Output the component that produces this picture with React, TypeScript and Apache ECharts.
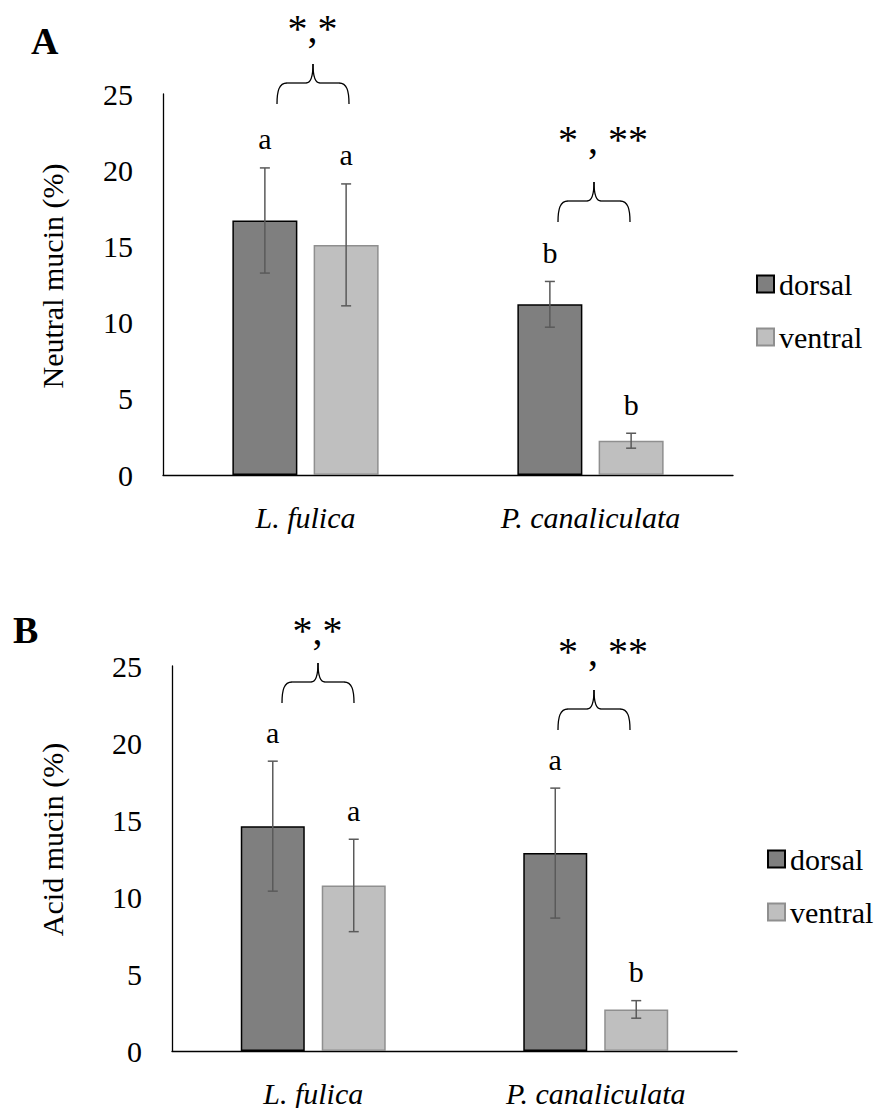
import React, { useEffect, useRef } from "react";
import * as echarts from "echarts";

const categories = ["L. fulica", "P. canaliculata"];
const seriesNames = ["dorsal", "ventral"];

// Panel A: Neutral mucin (%)
const neutralDorsal = [16.7, 11.2];
const neutralDorsalErr = [3.45, 1.5];
const neutralVentral = [15.1, 2.25];
const neutralVentralErr = [4.0, 0.49];
const neutralDorsalLetters = ["a", "b"];
const neutralVentralLetters = ["a", "b"];

// Panel B: Acid mucin (%)
const acidDorsal = [14.6, 12.85];
const acidDorsalErr = [4.22, 4.22];
const acidVentral = [10.75, 2.7];
const acidVentralErr = [3.0, 0.57];
const acidDorsalLetters = ["a", "a"];
const acidVentralLetters = ["a", "b"];

const yTicks = { min: 0, max: 25, interval: 5 };
const starsLeft = "*,*";
const starsRight = "* , **";

const FONT = "Liberation Serif";
const FS = 30;
const DORSAL_FILL = "#7f7f7f";
const VENTRAL_FILL = "#bfbfbf";
const ERR_COLOR = "#5a5a5a";

function errSeries(grid: number, means: number[], errs: number[], letters: string[], side: number, offset: number) {
  return {
    type: "custom",
    xAxisIndex: grid,
    yAxisIndex: grid,
    z: 5,
    silent: true,
    data: means.map((m, i) => [i, m, errs[i]]),
    encode: { x: 0, y: 1 },
    renderItem: (params: any, api: any) => {
      const i = api.value(0);
      const m = api.value(1);
      const e = api.value(2);
      const top = api.coord([i, m + e]);
      const bot = api.coord([i, m - e]);
      const x = top[0] + side * offset;
      const cap = 5;
      const ls = { stroke: ERR_COLOR, lineWidth: 1.5 };
      return {
        type: "group",
        children: [
          { type: "line", shape: { x1: x, y1: top[1], x2: x, y2: bot[1] }, style: ls },
          { type: "line", shape: { x1: x - cap, y1: top[1], x2: x + cap, y2: top[1] }, style: ls },
          { type: "line", shape: { x1: x - cap, y1: bot[1], x2: x + cap, y2: bot[1] }, style: ls },
          {
            type: "text",
            x,
            y: top[1] - 29,
            style: {
              text: letters[params.dataIndex],
              fontFamily: FONT,
              fontSize: FS,
              fill: "#000",
              align: "center",
              verticalAlign: "middle",
            },
          },
        ],
      };
    },
  };
}

function barSeries(grid: number, name: string, data: number[], barW: number, gap: string) {
  const dorsal = name === "dorsal";
  return {
    type: "bar",
    name,
    xAxisIndex: grid,
    yAxisIndex: grid,
    data,
    barWidth: barW,
    barGap: gap,
    itemStyle: {
      color: dorsal ? DORSAL_FILL : VENTRAL_FILL,
      borderColor: dorsal ? "#000" : "#8f8f8f",
      borderWidth: 1.5,
    },
  };
}

function yAxis(grid: number, name: string, gap: number, pad: number) {
  return {
    type: "value",
    gridIndex: grid,
    ...yTicks,
    name,
    nameLocation: "middle",
    nameRotate: 90,
    nameGap: gap,
    nameTextStyle: { fontFamily: FONT, fontSize: FS, color: "#000", padding: [0, 0, 0, pad] },
    axisLine: { show: true, lineStyle: { color: "#000", width: 1.3 } },
    axisTick: { show: false },
    splitLine: { show: false },
    axisLabel: { fontFamily: FONT, fontSize: FS, color: "#000", margin: 30 },
  };
}

function xAxis(grid: number) {
  return {
    type: "category",
    gridIndex: grid,
    data: categories,
    axisTick: { show: false },
    axisLine: { lineStyle: { color: "#000", width: 1.3 } },
    axisLabel: { fontFamily: FONT, fontSize: FS, fontStyle: "italic", color: "#000", margin: 27 },
  };
}

function legend(left: number, top: number) {
  return {
    data: seriesNames,
    orient: "vertical",
    left,
    top,
    icon: "rect",
    itemWidth: 17,
    itemHeight: 17,
    itemGap: 23,
    textStyle: { fontFamily: FONT, fontSize: FS, color: "#000" },
  };
}

function starText(x: number, y: number, text: string) {
  return {
    type: "text",
    x,
    y,
    style: { text, fontFamily: FONT, fontSize: 40, fill: "#000", align: "center", verticalAlign: "middle" },
  };
}

function brace(x: number, y: number) {
  const st = { stroke: "#000", fill: "none", lineWidth: 1.3 };
  return {
    type: "group",
    x,
    y,
    children: [
      { type: "bezierCurve", shape: { x1: 0, y1: 40, cpx1: 0, cpy1: 27, cpx2: 2, cpy2: 19, x2: 10, y2: 19 }, style: st },
      { type: "line", shape: { x1: 10, y1: 19, x2: 29, y2: 19 }, style: st },
      { type: "bezierCurve", shape: { x1: 29, y1: 19, cpx1: 33, cpy1: 19, cpx2: 36, cpy2: 14, x2: 36, y2: 0 }, style: st },
      { type: "bezierCurve", shape: { x1: 36, y1: 0, cpx1: 36, cpy1: 14, cpx2: 39, cpy2: 19, x2: 43, y2: 19 }, style: st },
      { type: "line", shape: { x1: 43, y1: 19, x2: 62, y2: 19 }, style: st },
      { type: "bezierCurve", shape: { x1: 62, y1: 19, cpx1: 70, cpy1: 19, cpx2: 72, cpy2: 27, x2: 72, y2: 40 }, style: st },
    ],
  };
}

function panelLabel(x: number, y: number, text: string) {
  return {
    type: "text",
    x,
    y,
    style: { text, fontFamily: FONT, fontSize: 38, fontWeight: "bold", fill: "#000", align: "left", verticalAlign: "middle" },
  };
}

export default function App() {
  const ref = useRef<HTMLDivElement>(null);
  useEffect(() => {
    if (!ref.current) return;
    const chart = echarts.init(ref.current, null, { renderer: "svg" });
    const offA = (65 * 1.25) / 2;
    const offB = (64 * 1.265) / 2;
    chart.setOption({
      animation: false,
      grid: [
        { left: 155, top: 86, width: 570, height: 381 },
        { left: 164, top: 658, width: 565, height: 391 },
      ],
      xAxis: [xAxis(0), xAxis(1)],
      yAxis: [yAxis(0, "Neutral mucin (%)", 96, 17), yAxis(1, "Acid mucin (%)", 105, 38)],
      legend: [legend(743, 256), legend(754, 831)],
      series: [
        barSeries(0, "dorsal", neutralDorsal, 65, "25%"),
        barSeries(0, "ventral", neutralVentral, 65, "25%"),
        barSeries(1, "dorsal", acidDorsal, 64, "26.5%"),
        barSeries(1, "ventral", acidVentral, 64, "26.5%"),
        errSeries(0, neutralDorsal, neutralDorsalErr, neutralDorsalLetters, -1, offA),
        errSeries(0, neutralVentral, neutralVentralErr, neutralVentralLetters, 1, offA),
        errSeries(1, acidDorsal, acidDorsalErr, acidDorsalLetters, -1, offB),
        errSeries(1, acidVentral, acidVentralErr, acidVentralLetters, 1, offB),
      ],
      graphic: [
        panelLabel(23, 32.5, "A"),
        panelLabel(5, 622, "B"),
        starText(304.5, 20, starsLeft),
        starText(595, 131, starsRight),
        starText(309.5, 622, starsLeft),
        starText(595, 643, starsRight),
        brace(269, 56),
        brace(550, 174),
        brace(274, 655),
        brace(550, 682),
      ],
    });
    return () => chart.dispose();
  }, []);
  return <div ref={ref} style={{ width: 874, height: 1100 }} />;
}
